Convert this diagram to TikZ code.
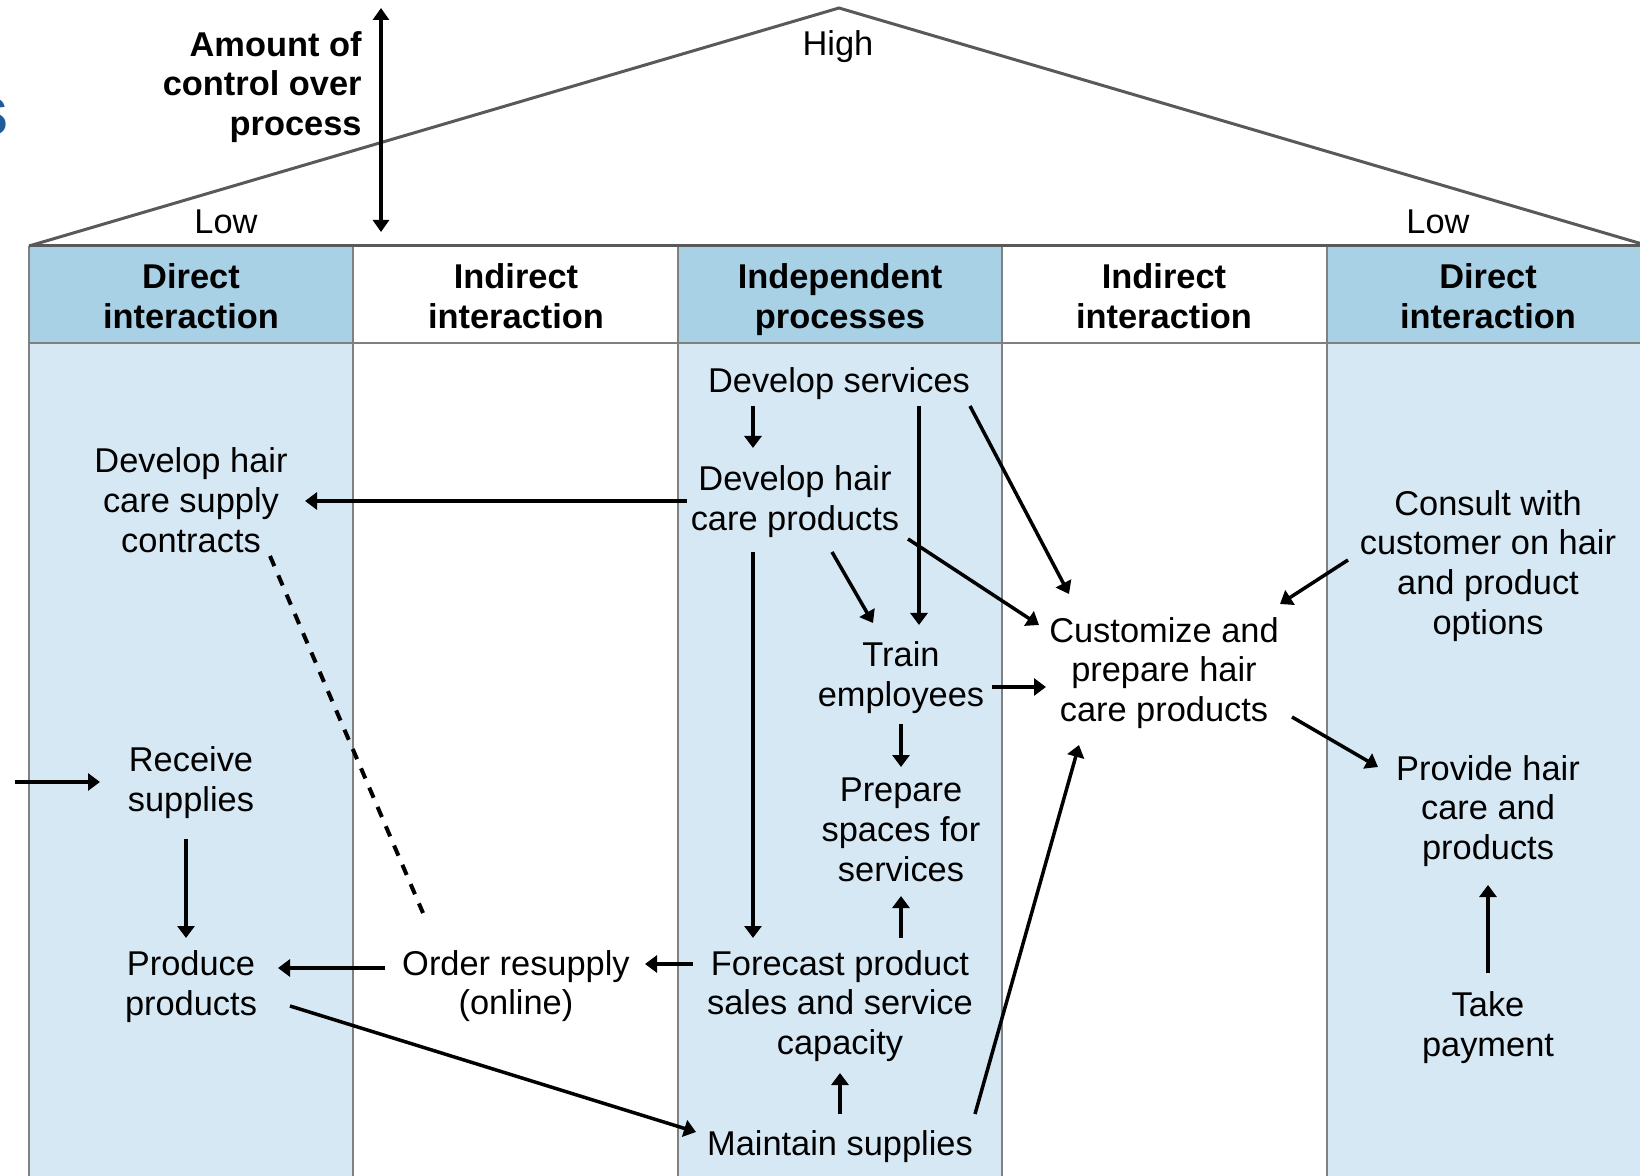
\documentclass[tikz,border=0pt]{standalone}
\usepackage{fontspec}
\setmainfont{Liberation Sans}
\usetikzlibrary{arrows.meta,calc}
\definecolor{hdrblue}{HTML}{A8D1E6}
\definecolor{colblue}{HTML}{D5E8F4}
\definecolor{gridgray}{HTML}{808080}
\definecolor{roofgray}{HTML}{595959}
\definecolor{titleblue}{HTML}{1F5C99}

\begin{document}
\begin{tikzpicture}[x=0.5pt,y=-0.5pt,
  txt/.style={align=center, inner sep=0pt, font=\fontsize{17.2}{19.9}\selectfont},
  hdr/.style={align=center, inner sep=0pt, font=\fontsize{17.2}{19.9}\selectfont\bfseries},
  arr/.style={line width=1.75pt, -{Triangle[length=6pt,width=8.5pt]}},
  dblarr/.style={line width=1.6pt, {Triangle[length=6pt,width=8pt]}-{Triangle[length=6pt,width=8pt]}},
  grid/.style={gridgray, line width=1.2pt},
  roof/.style={roofgray, line width=1.5pt}]
\useasboundingbox (0,0) rectangle (1640,1176);
\clip (0,0) rectangle (1640,1176);

% column fills
\foreach \xa/\xb in {29/353, 678/1002, 1327/1660}{
  \fill[hdrblue] (\xa,246) rectangle (\xb,343);
  \fill[colblue] (\xa,343) rectangle (\xb,1176);
}
% grid lines
\foreach \xx in {29,353,678,1002,1327}
  \draw[grid] (\xx,246) -- (\xx,1176);
\draw[grid] (29,343) -- (1660,343);
% roof
\draw[roof] (29,246) -- (839,8) -- (1649,246);
\draw[roof] (29,246) -- (1660,246);

% partial title letter at the edge
\node[anchor=base east, inner sep=0pt, text=titleblue,
      font=\fontsize{35.5}{40}\selectfont\bfseries] (ttl) at (9,136) {s};

% control scale
\node[hdr, align=right, anchor=east] (amt) at (362,87) {Amount of\\control over\\process};
\coordinate (ctop) at (381,8);
\coordinate (cbot) at (381,232);
\draw[dblarr] (ctop) -- (cbot);
\node[txt] (lowl) at (226,222) {Low};
\node[txt] (high) at (838,47) {High};
\node[txt] (lowr) at (1438,222) {Low};

% column headers
\node[hdr] (h1) at (191,296) {Direct\\interaction};
\node[hdr] (h2) at (516,296) {Indirect\\interaction};
\node[hdr] (h3) at (840,300) {Independent\\processes};
\node[hdr] (h4) at (1164,296) {Indirect\\interaction};
\node[hdr] (h5) at (1488,296) {Direct\\interaction};

% process steps
\node[txt] (dsc) at (191,500) {Develop hair\\care supply\\contracts};
\node[txt] (rs)  at (191,783) {Receive\\supplies};
\node[txt] (pp)  at (191,987) {Produce\\products};
\node[txt] (ors) at (516,986) {Order resupply\\(online)};
\node[txt] (ds)  at (839,384) {Develop services};
\node[txt] (dhp) at (795,502) {Develop hair\\care products};
\node[txt] (te)  at (901,678) {Train\\employees};
\node[txt] (ps)  at (901,830) {Prepare\\spaces for\\services};
\node[txt] (fc)  at (840,1006) {Forecast product\\sales and service\\capacity};
\node[txt] (ms)  at (840,1147) {Maintain supplies};
\node[txt] (cp)  at (1164,673) {Customize and\\prepare hair\\care products};
\node[txt] (cw)  at (1488,566) {Consult with\\customer on hair\\and product\\options};
\node[txt] (ph)  at (1488,811) {Provide hair\\care and\\products};
\node[txt] (tp)  at (1488,1028) {Take\\payment};

% flows
\draw[arr] ($(ds)+(-86,22)$) -- ($(dhp)+(-42,-54)$);
\draw[arr] ($(ds)+(80,22)$) -- ($(te)+(18,-53)$);
\draw[arr] ($(ds)+(131,22)$) -- ($(cp)+(-95,-79)$);
\draw[arr] ($(dhp)+(-108,-1)$) -- ($(dsc)+(114,1)$);
\draw[arr] ($(dhp)+(37,50)$) -- ($(te)+(-28,-55)$);
\draw[arr] ($(dhp)+(113,37)$) -- ($(cp)+(-125,-48)$);
\draw[arr] ($(dhp)+(-42,50)$) -- ($(fc)+(-87,-68)$);
\draw[arr] ($(te)+(91,9)$) -- ($(cp)+(-118,14)$);
\draw[arr] ($(te)+(0,46)$) -- ($(ps)+(0,-63)$);
\draw[arr] ($(fc)+(61,-68)$) -- ($(ps)+(0,66)$);
\draw[arr] ($(ms)+(0,-33)$) -- ($(fc)+(0,67)$);
\draw[arr] ($(ms)+(135,-33)$) -- ($(cp)+(-85,72)$);
\draw[arr] ($(fc)+(-147,-42)$) -- ($(ors)+(129,-22)$);
\draw[arr] ($(ors)+(-131,-18)$) -- ($(pp)+(87,-19)$);
\draw[arr] ($(pp)+(99,19)$) -- ($(ms)+(-144,-15)$);
\draw[arr] ($(rs)+(-5,56)$) -- ($(pp)+(-5,-49)$);
\coordinate (supin) at (15,782);
\draw[arr] (supin) -- ($(rs)+(-91,-1)$);
\draw[arr] ($(cw)+(-140,-6)$) -- ($(cp)+(116,-69)$);
\draw[arr] ($(cp)+(128,44)$) -- ($(ph)+(-110,-44)$);
\draw[arr] ($(tp)+(0,-55)$) -- ($(ph)+(0,74)$);
\draw[line width=2pt, dash pattern=on 5.5pt off 5pt]
  ($(dsc)+(79,56)$) -- ($(ors)+(-93,-73)$);
\end{tikzpicture}
\end{document}
